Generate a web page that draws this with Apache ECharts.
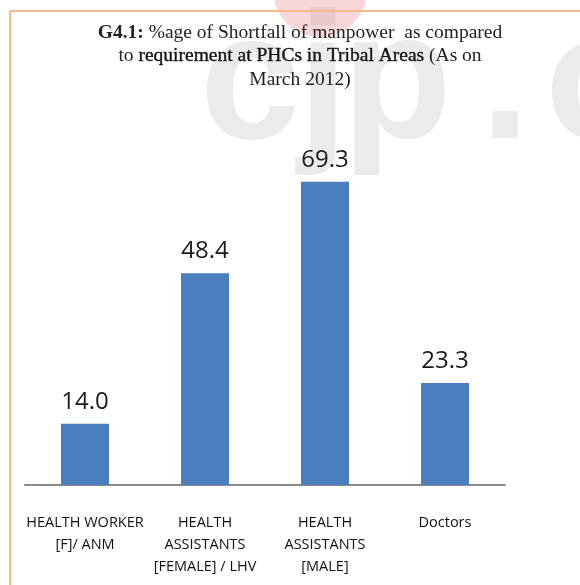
<!DOCTYPE html>
<html>
<head>
<meta charset="utf-8">
<script src="https://cdn.jsdelivr.net/npm/echarts@6/dist/echarts.min.js"></script>
<style>
  html, body { margin: 0; padding: 0; background: #fff; }
  #chart { width: 580px; height: 585px; }
</style>
</head>
<body>
<div id="chart"></div>
<script>
const categories = [
  'HEALTH WORKER\n[F]/ ANM',
  'HEALTH\nASSISTANTS\n[FEMALE] / LHV',
  'HEALTH\nASSISTANTS\n[MALE]',
  'Doctors'
]
const shortfall = [14.0, 48.4, 69.3, 23.3]

// watermark letters behind the chart
const markLetters = ['c', 'j', 'p', '.', 'o']
const markX = [200, 298, 342, 480, 545]

const chart = echarts.init(document.getElementById('chart'))

const watermark = markLetters.map((ch, i) => ({
  type: 'text',
  z: -10,
  silent: true,
  style: {
    x: markX[i],
    y: 88,
    text: ch,
    verticalAlign: 'middle',
    font: 'bold 180px "Liberation Sans"',
    fill: 'rgba(190,190,190,0.3)'
  }
}))

const option = {
  animation: false,
  title: {
    text: '{b|G4.1:} %age of Shortfall of manpower  as compared\nto {m|requirement at PHCs in Tribal Areas} (As on\nMarch 2012)',
    left: 295,
    top: 16,
    textAlign: 'center',
    textStyle: {
      fontFamily: 'Liberation Serif',
      fontSize: 19.5,
      fontWeight: 'normal',
      color: '#222',
      lineHeight: 23.5,
      align: 'center',
      rich: {
        b: { fontFamily: 'Liberation Serif', fontSize: 19.5, fontWeight: 'bold', color: '#222' },
        m: { fontFamily: 'Liberation Serif', fontSize: 19.5, fontWeight: 'normal', color: '#111', textBorderColor: '#333', textBorderWidth: 0.4 }
      }
    }
  },
  graphic: [
    ...watermark,
    {
      type: 'circle',
      z: -9,
      silent: true,
      shape: { cx: 320, cy: -10, r: 47 },
      style: { fill: 'rgba(225,110,120,0.28)' }
    },
    {
      type: 'line',
      shape: { x1: 10, y1: 11, x2: 580, y2: 11 },
      style: { stroke: '#f8b98c', lineWidth: 2 }
    },
    {
      type: 'line',
      shape: { x1: 10, y1: 11, x2: 10, y2: 585 },
      style: { stroke: '#f8b98c', lineWidth: 2 }
    }
  ],
  grid: { left: 25, right: 75, top: 135, bottom: 100 },
  xAxis: {
    type: 'category',
    data: categories,
    axisTick: { show: false },
    axisLine: { lineStyle: { color: '#8a8a8a', width: 2 } },
    axisLabel: {
      interval: 0,
      margin: 27,
      fontFamily: 'Open Sans',
      fontSize: 14.5,
      lineHeight: 22,
      color: '#111'
    }
  },
  yAxis: {
    type: 'value',
    min: 0,
    max: 80,
    show: false,
    splitLine: { show: false }
  },
  series: [
    {
      type: 'bar',
      data: shortfall,
      barWidth: '40%',
      itemStyle: { color: '#4a7ebf' },
      label: {
        show: true,
        position: 'top',
        distance: 10,
        fontFamily: 'Open Sans',
        fontSize: 24,
        color: '#1a1a1a',
        formatter: p => p.value.toFixed(1)
      }
    }
  ]
}

chart.setOption(option)
</script>
</body>
</html>
